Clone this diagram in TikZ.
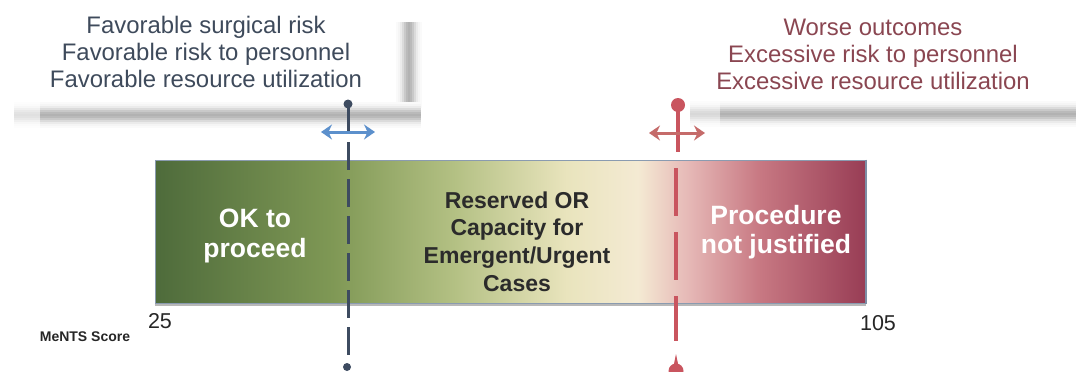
\documentclass[tikz,border=0pt]{standalone}
\usepackage{fontspec}
\setmainfont{Liberation Sans}
\usetikzlibrary{arrows.meta}
\definecolor{lefttxt}{HTML}{3E4A5B}
\definecolor{righttxt}{HTML}{8A4651}
\definecolor{midtxt}{HTML}{2B2B2B}
\definecolor{bluel}{HTML}{3D4B60}
\definecolor{bluea}{HTML}{5C90CC}
\definecolor{redl}{HTML}{C9555F}
\definecolor{reda}{HTML}{C56B6A}
\definecolor{barline}{HTML}{8A9BB0}
\definecolor{baredge}{HTML}{7D8EA5}
\definecolor{gA}{HTML}{4E6B3B}
\definecolor{gB}{HTML}{7F9855}
\definecolor{gC}{HTML}{B3C083}
\definecolor{gD}{HTML}{E9E4BD}
\definecolor{gE}{HTML}{F4EAD3}
\definecolor{gF}{HTML}{E6B9B7}
\definecolor{gG}{HTML}{C87983}
\definecolor{gH}{HTML}{983D55}
\pgfdeclarehorizontalshading{barshade}{100bp}{color(0bp)=(gA); color(25bp)=(gA); color(37.5bp)=(gB); color(46bp)=(gC); color(54bp)=(gD); color(59bp)=(gE); color(62.5bp)=(gF); color(67.5bp)=(gG); color(75bp)=(gH); color(100bp)=(gH)}
\tikzset{
  toptext/.style={align=center, inner sep=0pt, font=\fontsize{23.9}{27}\selectfont},
  bartext/.style={align=center, inner sep=0pt, font=\bfseries\fontsize{26.5}{29.5}\selectfont},
  midtext/.style={align=center, inner sep=0pt, text=midtxt, font=\bfseries\fontsize{23}{27.7}\selectfont},
  numtext/.style={inner sep=0pt, text=black!85, font=\fontsize{21.5}{24}\selectfont},
  barbox/.style={draw=barline, line width=1pt, shading=barshade, minimum width=710pt, minimum height=143pt, inner sep=0pt},
  blueline/.style={draw=bluel, line width=3pt},
  redline/.style={draw=redl, line width=4pt},
  bluearrow/.style={draw=bluea, line width=3pt, {Stealth[length=11pt,width=15pt]}-{Stealth[length=11pt,width=15pt]}},
  redarrow/.style={draw=reda, line width=3pt, {Stealth[length=11pt,width=15pt]}-{Stealth[length=11pt,width=15pt]}},
  shadowline/.style={line width=2.2pt}
}
\begin{document}
\begin{tikzpicture}[x=1pt,y=-1pt]
\useasboundingbox (0,0) rectangle (1076,372);
% callout shadows (soft bands)
\foreach \d/\c in {-12/2,12/2,-10/4,10/4,-8/8,8/8,-6/14,6/14,-4/21,4/21,-2/27,2/27,0/30} {
  \draw[shadowline, black!\c] (409+\d,22) -- (409+\d,108);
}
\foreach \d/\c in {-12/2,12/2,-10/4,10/4,-8/8,8/8,-6/14,6/14,-4/21,4/21,-2/27,2/27,0/30} {
  \draw[shadowline, black!\c] (14,115+\d) -- (421,115+\d);
  \draw[shadowline, black!\c] (690,114+\d) -- (1076,114+\d);
}
% fade the left ends of the bands
\fill[white, opacity=0.6] (0,100) rectangle (40,130);
\fill[white, opacity=0.5] (680,100) rectangle (720,130);
% callout texts
\node[toptext, text=lefttxt] (fav) at (206,52) {Favorable surgical risk\\Favorable risk to personnel\\Favorable resource utilization};
\node[toptext, text=righttxt] (worse) at (873,54) {Worse outcomes\\Excessive risk to personnel\\Excessive resource utilization};
% bar
\node[barbox] (bar) at (510,231.5) {};
\draw[black!28, line width=2pt] ([yshift=-1.5pt]bar.south west) -- ([yshift=-1.5pt]bar.south east);
\draw[baredge, line width=2pt] (bar.north east) -- (bar.south east);
\node[bartext, text=white] (ok) at (255,236) {OK to\\proceed};
\node[midtext] (res) at (517,241.5) {Reserved OR\\Capacity for\\Emergent/Urgent\\Cases};
\node[bartext, text=white] (proc) at (776,232) {Procedure\\not justified};
% scale labels
\node[numtext] (n25) at (160,321) {25};
\node[numtext] (n105) at (878,323) {105};
\node[inner sep=0pt, text=black!85, font=\bfseries\fontsize{14}{16}\selectfont] (ments) at (85,337) {MeNTS Score};
% blue marker
\coordinate (bt) at (348,104);
\coordinate (bm) at (348,134);
\coordinate (bd1) at (348,142);
\coordinate (bd2) at (348,355);
\coordinate (bb) at (347,367);
\coordinate (baL) at (321,132);
\coordinate (baR) at (375,132);
\draw[blueline] (bt) -- (bm);
\fill[bluel] (bt) circle (4.5);
\draw[blueline, dash pattern=on 28pt off 9pt] (bd1) -- (bd2);
\fill[bluel] (bb) circle (4);
\draw[bluearrow] (baL) -- (baR);
% red marker
\coordinate (rt) at (678,105);
\coordinate (rm) at (678,152);
\coordinate (rd1) at (676,168);
\coordinate (rd2) at (676,341);
\coordinate (rb) at (676,371);
\coordinate (raL) at (649,133);
\coordinate (raR) at (705,133);
\draw[redline] (rt) -- (rm);
\fill[redl] (rt) circle (7);
\draw[redline, line width=4.5pt, dash pattern=on 48pt off 16pt] (rd1) -- (rd2);
\fill[redl] (rb) circle (7.5);
\fill[redl] ([xshift=-3.5pt]rb) -- ([yshift=17pt]rb) -- ([xshift=3.5pt]rb) -- cycle;
\draw[redarrow] (raL) -- (raR);
\end{tikzpicture}
\end{document}
